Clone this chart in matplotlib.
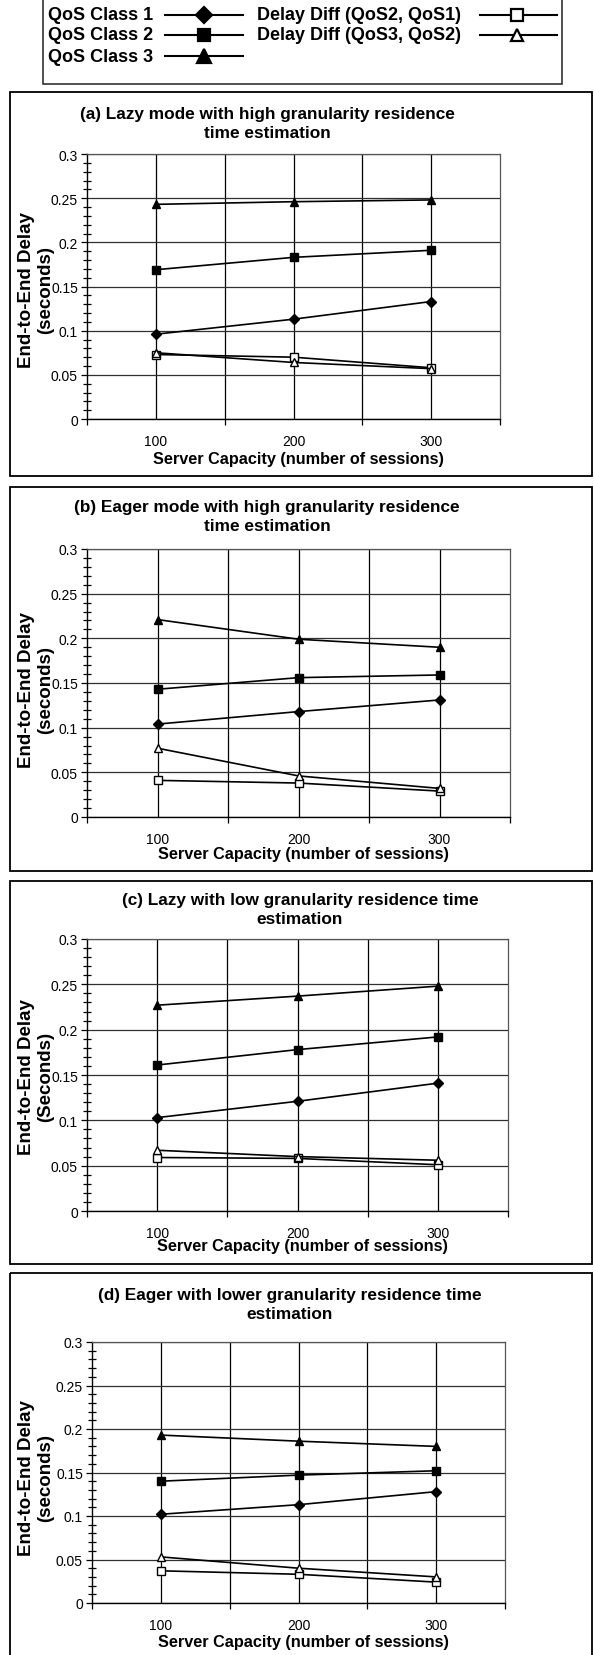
import matplotlib
matplotlib.use('Agg')
import matplotlib.pyplot as plt
from matplotlib.lines import Line2D
from matplotlib.patches import Rectangle
from matplotlib.ticker import MultipleLocator, FixedLocator, NullFormatter, FuncFormatter

# ---------------- data ----------------
capacity = [100, 200, 300]
capacity_labels = ['100', '200', '300']

series_names = ['QoS Class 1', 'QoS Class 2', 'QoS Class 3',
                'Delay Diff (QoS2, QoS1)', 'Delay Diff (QoS3, QoS2)']

a_qos1 = [0.096, 0.113, 0.133]
a_qos2 = [0.169, 0.183, 0.191]
a_qos3 = [0.243, 0.246, 0.248]
a_diff21 = [0.073, 0.070, 0.058]
a_diff32 = [0.075, 0.064, 0.057]

b_qos1 = [0.104, 0.118, 0.131]
b_qos2 = [0.143, 0.156, 0.159]
b_qos3 = [0.221, 0.199, 0.190]
b_diff21 = [0.041, 0.038, 0.029]
b_diff32 = [0.077, 0.046, 0.032]

c_qos1 = [0.103, 0.121, 0.141]
c_qos2 = [0.161, 0.178, 0.192]
c_qos3 = [0.227, 0.237, 0.248]
c_diff21 = [0.059, 0.058, 0.051]
c_diff32 = [0.067, 0.060, 0.056]

d_qos1 = [0.102, 0.113, 0.128]
d_qos2 = [0.140, 0.147, 0.152]
d_qos3 = [0.193, 0.186, 0.180]
d_diff21 = [0.037, 0.033, 0.024]
d_diff32 = [0.053, 0.040, 0.030]

titles = ['(a) Lazy mode with high granularity residence\ntime estimation',
          '(b) Eager mode with high granularity residence\ntime estimation',
          '(c) Lazy with low granularity residence time\nestimation',
          '(d) Eager with lower granularity residence time\nestimation']
ylabels = ['End-to-End Delay\n(seconds)', 'End-to-End Delay\n(seconds)',
           'End-to-End Delay\n(Seconds)', 'End-to-End Delay\n(seconds)']
xlabel = 'Server Capacity (number of sessions)'

panel_data = [
    [a_qos1, a_qos2, a_qos3, a_diff21, a_diff32],
    [b_qos1, b_qos2, b_qos3, b_diff21, b_diff32],
    [c_qos1, c_qos2, c_qos3, c_diff21, c_diff32],
    [d_qos1, d_qos2, d_qos3, d_diff21, d_diff32],
]

# ---------------- styles ----------------
styles = [
    dict(marker='D', ms=4.8, mfc='black', lms=8.3),
    dict(marker='s', ms=6.0, mfc='black', lms=9.2),
    dict(marker='^', ms=6.3, mfc='black', lms=9.6),
    dict(marker='s', ms=5.6, mfc='white', lms=8.8),
    dict(marker='^', ms=6.0, mfc='white', lms=9.2),
]

W, H = 594, 1656
DPI = 100
plt.rcParams['font.family'] = ['Liberation Sans', 'DejaVu Sans']

fig = plt.figure(figsize=(W / DPI, H / DPI), dpi=DPI)
lay = fig.add_axes([0, 0, 1, 1], zorder=0)
lay.set_xlim(0, W)
lay.set_ylim(H, 0)
lay.axis('off')


def fbox(x0, y0, x1, y1):
    return [x0 / W, 1 - y1 / H, (x1 - x0) / W, (y1 - y0) / H]


# layout in pixels: frame, plot area, title (x,y), ylabel (x,y), xlabel y
layouts = [
    dict(frame=(10, 93, 592, 477), plot=(87, 155, 500, 420), title=(267, 124), ylab=(36, 290), xlab=460),
    dict(frame=(10, 488, 592, 872), plot=(87, 550, 510, 818), title=(267, 517), ylab=(36, 690), xlab=855),
    dict(frame=(10, 882, 592, 1265), plot=(87, 940, 508, 1212), title=(300, 910), ylab=(36, 1077), xlab=1247),
    dict(frame=(10, 1274, 592, 1680), plot=(92, 1343, 505, 1604), title=(290, 1305), ylab=(36, 1478), xlab=1643),
]

# ---------------- legend ----------------
lay.add_patch(Rectangle((43, 0), 519, 85, fill=False, ec='#202020', lw=1.1))
leg_rows = [16, 36, 57]
leg_cols = [dict(tx=48, l0=165, l1=243, mx=204), dict(tx=257, l0=480, l1=557, mx=517)]
for i, name in enumerate(series_names):
    col = leg_cols[0] if i < 3 else leg_cols[1]
    ry = leg_rows[i if i < 3 else i - 3]
    lay.text(col['tx'], ry, name, fontsize=13, fontweight='bold', va='center', ha='left')
    lay.add_line(Line2D([col['l0'], col['l1']], [ry, ry], color='black', lw=1.5))
    st = styles[i]
    lay.add_line(Line2D([col['mx']], [ry], marker=st['marker'], ms=st['lms'],
                        mfc=st['mfc'], mec='black', mew=1.6, ls='none'))

# ---------------- panels ----------------
for p, lo in enumerate(layouts):
    fx0, fy0, fx1, fy1 = lo['frame']
    lay.add_patch(Rectangle((fx0, fy0), fx1 - fx0, fy1 - fy0, fill=False, ec='black', lw=1.3))
    ax = fig.add_axes(fbox(*lo['plot']), zorder=2)
    ax.set_facecolor('none')
    ax.set_xlim(50, 350)
    ax.set_ylim(0, 0.3)
    ax.yaxis.set_major_locator(MultipleLocator(0.05))
    ax.yaxis.set_minor_locator(MultipleLocator(0.01))
    ax.yaxis.set_major_formatter(FuncFormatter(lambda v, pos: '%g' % round(v, 2)))
    ax.xaxis.set_major_locator(FixedLocator([50, 150, 250, 350]))
    ax.xaxis.set_major_formatter(NullFormatter())
    ax.xaxis.set_minor_locator(FixedLocator(capacity))
    ax.set_xticklabels(capacity_labels, minor=True)
    ax.tick_params(axis='y', which='major', direction='out', length=4.5, width=0.9,
                   labelsize=10, pad=2)
    ax.tick_params(axis='y', which='minor', direction='inout', length=6, width=0.9)
    ax.tick_params(axis='x', which='major', direction='out', length=4, width=0.9)
    ax.tick_params(axis='x', which='minor', length=0, labelsize=10, pad=11)
    ax.grid(axis='y', which='major', color='#303030', lw=0.9)
    for gx in [100, 150, 200, 250, 300]:
        ax.axvline(gx, color='black', lw=0.9, zorder=1)
    for s in ['left', 'bottom']:
        ax.spines[s].set_color('black')
        ax.spines[s].set_linewidth(1.0)
    for s in ['top', 'right']:
        ax.spines[s].set_color('#555555')
        ax.spines[s].set_linewidth(0.9)

    for i, vals in enumerate(panel_data[p]):
        st = styles[i]
        ax.plot(capacity, vals, color='black', lw=1.2, marker=st['marker'], ms=st['ms'],
                mfc=st['mfc'], mec='black', mew=1.0, clip_on=False, zorder=3)

    tx, ty = lo['title']
    lay.text(tx, ty, titles[p], fontsize=12.4, fontweight='bold', ha='center', va='center',
             multialignment='center', linespacing=1.35)
    yx, yy = lo['ylab']
    lay.text(yx, yy, ylabels[p], fontsize=13.5, fontweight='bold', ha='center', va='center',
             rotation=90, multialignment='center', linespacing=1.15)
    px0, _, px1, _ = lo['plot']
    lay.text((px0 + px1) / 2 + 5, lo['xlab'], xlabel, fontsize=11.7, fontweight='bold',
             ha='center', va='center')

fig.savefig('out.png', dpi=DPI)
